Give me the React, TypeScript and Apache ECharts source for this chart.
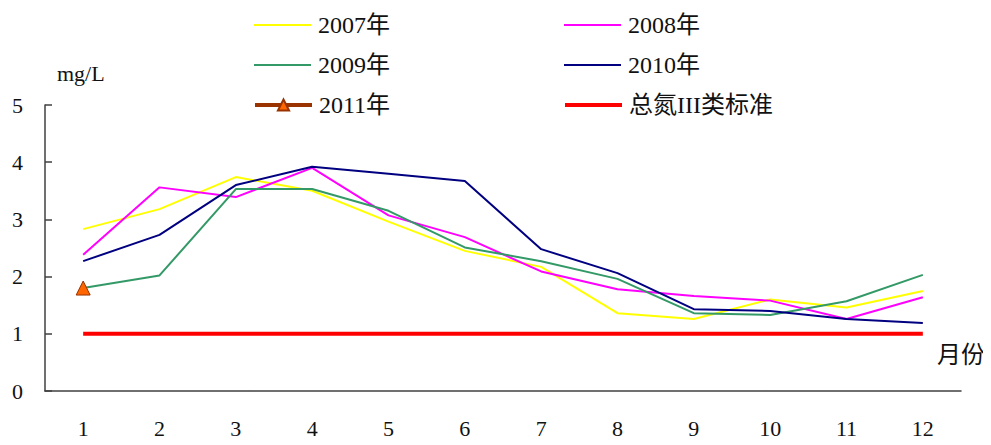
import React, { useEffect, useRef } from "react";
import * as echarts from "echarts";

const months = ["1", "2", "3", "4", "5", "6", "7", "8", "9", "10", "11", "12"];
const y2007 = [2.83, 3.18, 3.74, 3.5, 2.96, 2.45, 2.17, 1.36, 1.26, 1.6, 1.46, 1.75];
const y2008 = [2.38, 3.56, 3.39, 3.9, 3.07, 2.69, 2.09, 1.78, 1.66, 1.58, 1.26, 1.64];
const y2009 = [1.8, 2.02, 3.53, 3.53, 3.15, 2.51, 2.27, 1.96, 1.36, 1.33, 1.57, 2.03];
const y2010 = [2.27, 2.73, 3.6, 3.92, 3.8, 3.67, 2.48, 2.06, 1.43, 1.4, 1.26, 1.19];
const y2011 = [1.8, null, null, null, null, null, null, null, null, null, null, null];
const standard = [1, 1, 1, 1, 1, 1, 1, 1, 1, 1, 1, 1];
const yTicks = [0, 1, 2, 3, 4, 5];

const FONT = '"Liberation Serif", "DejaVu Serif", "Noto Sans CJK SC", serif';

export default function App() {
  const ref = useRef<HTMLDivElement>(null);
  useEffect(() => {
    if (!ref.current) return;
    const chart = echarts.init(ref.current, undefined, { renderer: "svg" });
    const lineSeries = (name: string, data: (number | null)[], color: string, width: number) => ({
      name,
      type: "line",
      data,
      symbol: "none",
      showSymbol: false,
      lineStyle: { color, width },
      itemStyle: { color },
      z: 3,
    });
    const legendAt = (name: string, left: number, top: number, lw: number, hideSymbol = true) => ({
      data: [hideSymbol ? { name, itemStyle: { opacity: 0, borderWidth: 0 } } : name],
      left,
      top,
      itemWidth: 57,
      itemHeight: 14,
      itemGap: 0,
      lineStyle: { width: lw },
      textStyle: { fontFamily: FONT, fontSize: 24, color: "#111", padding: [0, 0, 0, 2] },
    });
    chart.setOption({
      animation: false,
      backgroundColor: "#fff",
      textStyle: { fontFamily: FONT },
      legend: [
        legendAt("2007年", 248, 8, 2),
        legendAt("2008年", 558, 8, 2),
        legendAt("2009年", 248, 48, 2),
        legendAt("2010年", 558, 48, 2),
        legendAt("2011年", 248, 88, 4, false),
        legendAt("总氮III类标准", 558, 88, 4),
      ],
      grid: { left: 45, right: 30, top: 105, bottom: 54, containLabel: false },
      xAxis: {
        type: "category",
        data: months,
        boundaryGap: true,
        axisLine: { lineStyle: { color: "#404040", width: 1.5 } },
        axisTick: { inside: true, length: 7, lineStyle: { color: "#404040", width: 1.5 } },
        axisLabel: { fontFamily: FONT, fontSize: 22, color: "#111", margin: 26 },
        splitLine: { show: false },
      },
      yAxis: {
        type: "value",
        min: yTicks[0],
        max: yTicks[yTicks.length - 1],
        interval: 1,
        axisLine: { show: true, lineStyle: { color: "#404040", width: 1.5 } },
        axisTick: { show: true, inside: true, length: 7, lineStyle: { color: "#404040", width: 1.5 } },
        axisLabel: { fontFamily: FONT, fontSize: 22, color: "#111", margin: 22 },
        splitLine: { show: false },
      },
      graphic: [
        { type: "text", left: 57, top: 62, style: { text: "mg/L", fontFamily: FONT, fontSize: 22, fill: "#111" } },
        { type: "text", left: 937, top: 343, style: { text: "月份", fontFamily: FONT, fontSize: 24, fill: "#111" } },
      ],
      series: [
        lineSeries("2007年", y2007, "#FFFF00", 2),
        lineSeries("2008年", y2008, "#FF00FF", 2),
        lineSeries("2009年", y2009, "#339966", 2),
        lineSeries("2010年", y2010, "#000080", 2),
        {
          name: "2011年",
          type: "line",
          data: y2011,
          symbol: "triangle",
          symbolSize: 14,
          showSymbol: true,
          lineStyle: { color: "#993300", width: 4 },
          itemStyle: { color: "#FF6600", borderColor: "#993300", borderWidth: 1 },
          z: 5,
        },
        lineSeries("总氮III类标准", standard, "#FF0000", 4),
      ],
    });
    return () => chart.dispose();
  }, []);
  return <div ref={ref} style={{ width: 991, height: 445, margin: -8 }} />;
}
